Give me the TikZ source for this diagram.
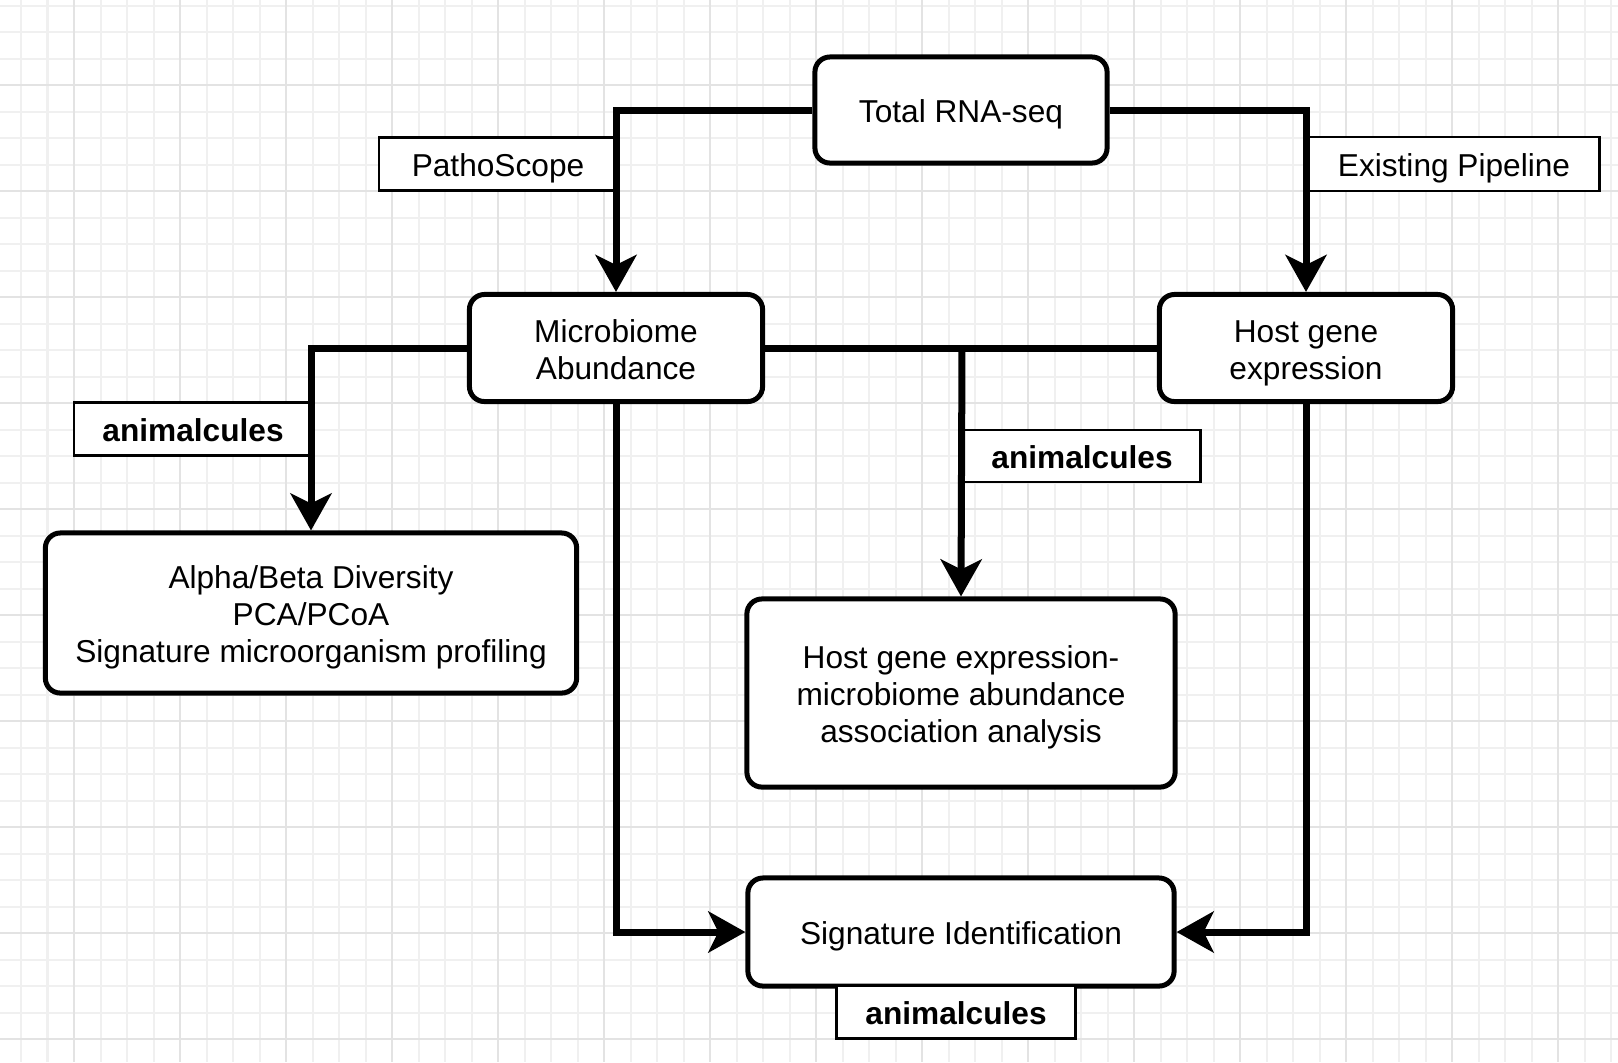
\documentclass[tikz,border=0pt]{standalone}
\usepackage{fontspec}
\setmainfont{Liberation Sans}
\usetikzlibrary{arrows.meta}
\newcommand{\boxtop}{\rule{0pt}{9.4pt}}
\newcommand{\boxbot}{\rule[-2.2pt]{0pt}{2.2pt}}

\begin{document}
\begin{tikzpicture}[x=0.01cm,y=-0.01cm,
  box/.style={draw,rounded corners=0.15cm,line width=0.05cm,align=center,fill=white,
              inner sep=0pt,font=\fontsize{9}{10.5}\selectfont},
  tag/.style={draw,line width=0.025cm,fill=white,inner sep=0pt,
              font=\fontsize{9}{10.5}\selectfont},
  flow/.style={line width=0.07cm,-{Stealth[length=0.37cm,width=0.41cm,inset=0.1cm]}}]
\fill[white] (0,0) rectangle (1618,1062);
\useasboundingbox (0,0) rectangle (1618,1062);
\begin{scope}
\clip (0,0) rectangle (1618,1062);
\foreach \i in {0,...,62} \draw[black!6,line width=0.02cm] (-32+26.5*\i,0) -- (-32+26.5*\i,1062);
\foreach \j in {0,...,41} \draw[black!6,line width=0.02cm] (0,-21+26.5*\j) -- (1618,-21+26.5*\j);
\foreach \i in {0,...,15} \draw[black!11,line width=0.02cm] (-32+106*\i,0) -- (-32+106*\i,1062);
\foreach \j in {0,...,10} \draw[black!11,line width=0.02cm] (0,-21+106*\j) -- (1618,-21+106*\j);
\end{scope}

\node[box,minimum width=2.92cm,minimum height=1.06cm] (rnaseq) at (961,110) {\boxtop Total RNA-seq\boxbot};
\node[box,minimum width=2.93cm,minimum height=1.07cm] (microbe) at (616,348) {\boxtop Microbiome\\Abundance\boxbot};
\node[box,minimum width=2.93cm,minimum height=1.07cm] (hostexp) at (1306,348) {\boxtop Host gene\\expression\boxbot};
\node[box,minimum width=5.31cm,minimum height=1.60cm] (diversity) at (311,613)
  {\boxtop Alpha/Beta Diversity\\PCA/PCoA\\Signature microorganism profiling\boxbot};
\node[box,minimum width=4.28cm,minimum height=1.88cm] (assoc) at (961,693)
  {\boxtop Host gene expression-\\microbiome abundance\\association analysis\boxbot};
\node[box,minimum width=4.26cm,minimum height=1.08cm] (signature) at (961,932) {\boxtop Signature Identification\boxbot};

\node[tag,minimum width=2.38cm,minimum height=0.53cm] (patho) at (498,164) {\boxtop PathoScope\boxbot};
\node[tag,minimum width=2.91cm,minimum height=0.54cm] (pipeline) at (1454,164) {\boxtop Existing Pipeline\boxbot};
\node[tag,minimum width=2.38cm,minimum height=0.53cm] (animA) at (193,429) {\boxtop\bfseries animalcules\boxbot};
\node[tag,minimum width=2.37cm,minimum height=0.52cm] (animB) at (1082,456) {\boxtop\bfseries animalcules\boxbot};
\node[tag,minimum width=2.39cm,minimum height=0.53cm] (animC) at (956,1012) {\boxtop\bfseries animalcules\boxbot};

\coordinate (split) at (962,348);

\draw[flow] (rnaseq.west) -| (microbe.north);
\draw[flow] (rnaseq.east) -| (hostexp.north);
\draw[flow] (microbe.west) -| (diversity.north);
\draw[line width=0.07cm] (microbe.east) -- (hostexp.west);
\draw[flow] (split) -- (assoc.north);
\draw[flow] (microbe.south) |- (signature.west);
\draw[flow] (hostexp.south) |- (signature.east);
\end{tikzpicture}
\end{document}
